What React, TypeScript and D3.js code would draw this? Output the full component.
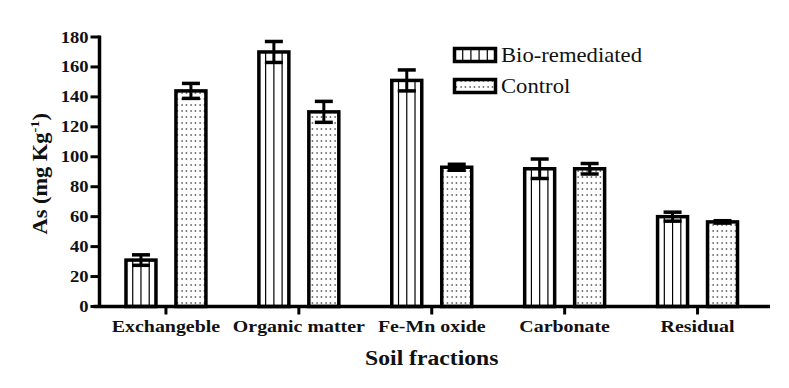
import React from 'react';
import * as d3 from 'd3';

const categories = ['Exchangeble', 'Organic matter', 'Fe-Mn oxide', 'Carbonate', 'Residual'];
const seriesNames = ['Bio-remediated', 'Control'];
const bioValues = [31, 170, 151, 92, 60];
const bioErrors = [3.5, 7, 7, 6.5, 3];
const controlValues = [144, 130, 93, 92, 56.5];
const controlErrors = [5, 7, 2, 3.5, 0.8];
const yTicks = [0, 20, 40, 60, 80, 100, 120, 140, 160, 180];

const W = 789;
const H = 388;
const FONT = 'Liberation Serif';
const INK = '#111';

const left = 99.5, right = 764, top = 37, bottom = 306.5;

const x0 = d3.scaleBand<string>().domain(categories).range([left, right]);
const x1 = d3.scaleBand<string>().domain(seriesNames).range([0, x0.bandwidth()])
  .paddingInner(0.34).paddingOuter(0.5);
const y = d3.scaleLinear().domain([0, 180]).range([bottom, top]);

const rows = categories.flatMap((c, i) => [
  { cat: c, s: seriesNames[0], v: bioValues[i], e: bioErrors[i] },
  { cat: c, s: seriesNames[1], v: controlValues[i], e: controlErrors[i] },
]);

// stretched bold label like the original export
function Label({ x, yy, text, size, sx, anchor = 'middle', bold = true }:
  { x: number; yy: number; text: string; size: number; sx: number; anchor?: string; bold?: boolean }) {
  return (
    <text transform={`translate(${x},${yy}) scale(${sx},1)`} textAnchor={anchor}
      fontSize={size} fontWeight={bold ? 'bold' : 'normal'} fill={INK}
      style={{ fontFamily: FONT }}>
      {text}
    </text>
  );
}

export default function App() {
  const bw = x1.bandwidth();
  return (
    <svg width={W} height={H} style={{ position: 'absolute', left: 0, top: 0, background: '#fff' }}>
      <defs>
        <pattern id="dots" patternUnits="userSpaceOnUse" width={4.5} height={6}>
          <rect width={4.5} height={6} fill="#fff" />
          <rect x={1.5} y={2} width={1} height={2} fill="#333" />
        </pattern>
      </defs>

      {/* bars */}
      {rows.map(d => {
        const bx = (x0(d.cat) as number) + (x1(d.s) as number);
        const cx = bx + bw / 2;
        const ctrl = d.s === 'Control';
        return (
          <g key={d.cat + d.s}>
            <rect x={bx + 1.5} y={y(d.v)} width={bw - 3} height={y(0) - y(d.v)}
              fill={ctrl ? 'url(#dots)' : '#fff'} stroke="#000" strokeWidth={3.5} />
            {!ctrl && [0.25, 0.5, 0.75].map(f => (
              <line key={f} x1={bx + bw * f} x2={bx + bw * f} y1={y(d.v)} y2={y(0)}
                stroke="#000" strokeWidth={1.2} />
            ))}
            <line x1={cx} x2={cx} y1={y(d.v + d.e)} y2={y(d.v - d.e)} stroke="#000" strokeWidth={3} />
            {[d.v + d.e, d.v - d.e].map((v, k) => (
              <line key={k} x1={cx - 9} x2={cx + 9} y1={y(v)} y2={y(v)} stroke="#000" strokeWidth={3.5} />
            ))}
          </g>
        );
      })}

      {/* y axis */}
      <line x1={left} x2={left} y1={top - 1.5} y2={bottom + 1.5} stroke="#000" strokeWidth={3.5} />
      {yTicks.map(t => (
        <g key={t}>
          <line x1={left - 9} x2={left} y1={y(t)} y2={y(t)} stroke="#000" strokeWidth={3} />
          <Label x={left - 11} yy={y(t) + 5.5} text={String(t)} size={16} sx={1.16} anchor="end" />
        </g>
      ))}

      {/* x axis */}
      <line x1={left - 6} x2={right + 6} y1={bottom} y2={bottom} stroke="#000" strokeWidth={3.5} />
      {categories.map(c => {
        const cx = (x0(c) as number) + x0.bandwidth() / 2;
        return (
          <g key={c}>
            <line x1={cx} x2={cx} y1={bottom} y2={bottom + 8} stroke="#000" strokeWidth={3} />
            <Label x={cx} yy={332} text={c} size={17} sx={1.17} />
          </g>
        );
      })}

      <Label x={(left + right) / 2} yy={365} text="Soil fractions" size={21.5} sx={1.1} />

      <text transform={`translate(46.5,${(top + bottom) / 2 + 2}) rotate(-90) scale(1.12,1)`}
        textAnchor="middle" fontSize={20} fontWeight="bold" fill={INK} style={{ fontFamily: FONT }}>
        <tspan>As (mg Kg</tspan>
        <tspan dy={-8} fontSize={13}>-1</tspan>
        <tspan dy={8}>)</tspan>
      </text>

      {/* legend */}
      {seriesNames.map((s, i) => {
        const ly = 48.5 + i * 31;
        const ctrl = s === 'Control';
        return (
          <g key={s}>
            <rect x={454.5} y={ly} width={41} height={13} fill={ctrl ? 'url(#dots)' : '#fff'}
              stroke="#000" strokeWidth={3.5} />
            {!ctrl && [1, 2, 3, 4].map(k => (
              <line key={k} x1={454.5 + k * 8.2} x2={454.5 + k * 8.2} y1={ly} y2={ly + 13}
                stroke="#000" strokeWidth={1.2} />
            ))}
            <Label x={501} yy={ly + 13.5} text={s} size={21} sx={1.08} anchor="start" bold={false} />
          </g>
        );
      })}
    </svg>
  );
}
